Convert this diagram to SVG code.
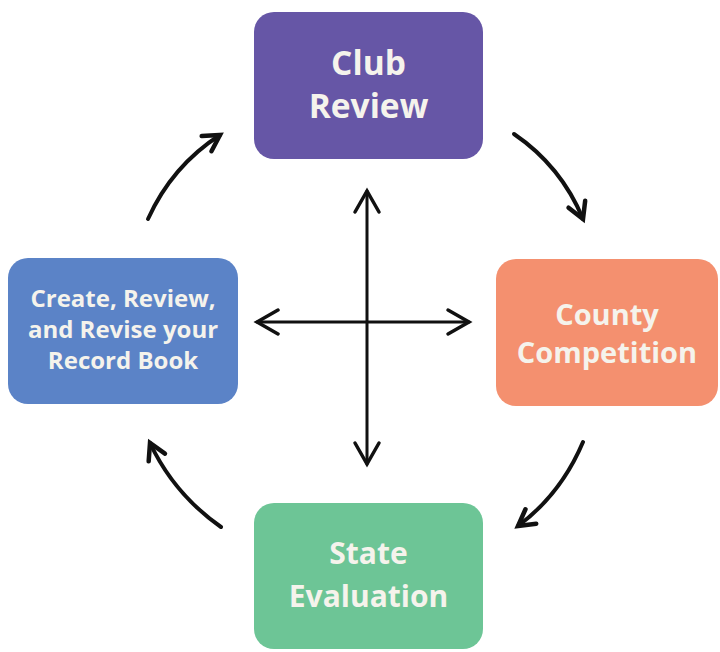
<svg xmlns="http://www.w3.org/2000/svg" width="720" height="652" viewBox="0 0 720 652">
<defs>
<style>
.lbl{font-family:"Open Sans",Lato,"Liberation Sans",sans-serif;font-weight:700;fill:#f5f3ec;text-anchor:middle}
.ln{fill:none;stroke:#111;stroke-width:3;stroke-linecap:round}
.cv{fill:none;stroke:#111;stroke-width:4;stroke-linecap:round}
</style>
<marker id="chev" markerUnits="userSpaceOnUse" orient="auto-start-reverse" refX="0" refY="0" markerWidth="40" markerHeight="40" viewBox="-30 -20 40 40" overflow="visible">
<path d="M-21,-12 L0,0 L-21,12" fill="none" stroke="#111" stroke-width="3.5" stroke-linecap="round" stroke-linejoin="miter"/>
</marker>
<marker id="head" markerUnits="userSpaceOnUse" orient="auto" refX="0" refY="0" markerWidth="40" markerHeight="40" viewBox="-30 -20 40 40" overflow="visible">
<path d="M-16,-9 L0,0 L-16,9" fill="none" stroke="#111" stroke-width="4.5" stroke-linecap="round" stroke-linejoin="miter"/>
</marker>
</defs>
<rect width="720" height="652" fill="#fff"/>
<g id="club-review">
<rect x="254" y="12" width="229" height="147" rx="20" fill="#6656a6"/>
<text class="lbl" x="368.5" y="75" font-size="33.5">Club</text>
<text class="lbl" x="368.5" y="118" font-size="33.5">Review</text>
</g>
<g id="county-competition">
<rect x="496" y="259" width="222" height="147" rx="20" fill="#f4906f"/>
<text class="lbl" x="607" y="325" font-size="29">County</text>
<text class="lbl" x="607" y="363" font-size="29">Competition</text>
</g>
<g id="record-book">
<rect x="8" y="258" width="230" height="146" rx="20" fill="#5b83c7"/>
<text class="lbl" x="123" y="307" font-size="24">Create, Review,</text>
<text class="lbl" x="123" y="338" font-size="24">and  Revise your</text>
<text class="lbl" x="123" y="369" font-size="24">Record Book</text>
</g>
<g id="state-evaluation">
<rect x="254" y="503" width="229" height="146" rx="20" fill="#6dc596"/>
<text class="lbl" x="368.5" y="564" font-size="30">State</text>
<text class="lbl" x="368.5" y="607" font-size="30">Evaluation</text>
</g>
<g id="connectors">
<line class="ln" x1="367" y1="191" x2="367" y2="464" marker-start="url(#chev)" marker-end="url(#chev)"/>
<line class="ln" x1="257" y1="322" x2="469" y2="322" marker-start="url(#chev)" marker-end="url(#chev)"/>
<path class="cv" d="M148,219 Q172,166 220,135" marker-end="url(#head)"/>
<path class="cv" d="M514,134 Q561,166 583,219" marker-end="url(#head)"/>
<path class="cv" d="M583,442 Q561,494 518,526" marker-end="url(#head)"/>
<path class="cv" d="M221,527 Q174,494 150,443" marker-end="url(#head)"/>
</g>
</svg>
